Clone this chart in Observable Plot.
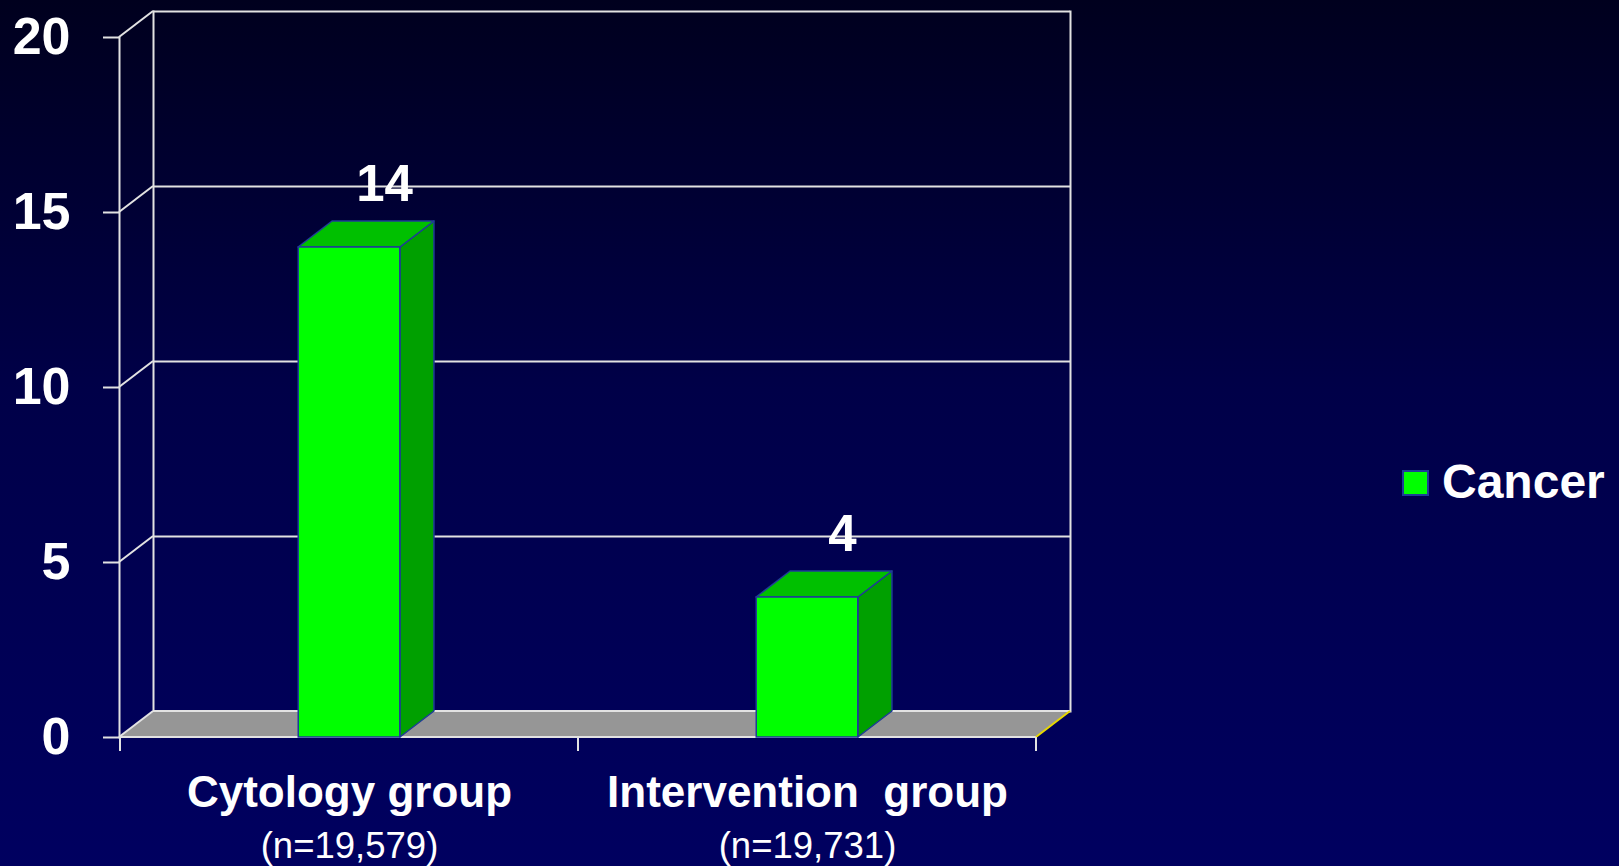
<!DOCTYPE html>
<html>
<head>
<meta charset="utf-8">
<script src="https://cdn.jsdelivr.net/npm/d3@7"></script>
<script src="https://cdn.jsdelivr.net/npm/@observablehq/plot@0.6"></script>
<style>
  html, body { margin: 0; padding: 0; overflow: hidden; }
  body {
    width: 1619px; height: 866px; position: relative;
    background: linear-gradient(to bottom, #00001e 0%, #000048 45%, #000060 100%);
    font-family: "Liberation Sans", Arial, sans-serif;
  }
  #chart { position: absolute; left: 0; top: 0; }
  #legend { position: absolute; left: 1402px; top: 458px; height: 48px; color: white; }
  #legend .sw { position: absolute; left: 0; top: 12px; width: 23px; height: 22px; background: #00ff00; border: 2px solid #1f3c96; }
  #legend .lab { position: absolute; left: 40px; top: 0; font-size: 48px; line-height: 48px; font-weight: bold; white-space: nowrap; }
</style>
</head>
<body>
<div id="chart"></div>
<div id="legend"><span class="sw"></span><span class="lab"></span></div>
<script>
// ---- data ----
const categories = ["Cytology group", "Intervention group"];
const categoryLabels = ["Cytology group", "Intervention\u00a0 group"];
const groupSizes = ["(n=19,579)", "(n=19,731)"];
const cancerCounts = [14, 4];
const yTicks = [0, 5, 10, 15, 20];
const seriesName = "Cancer";

const data = categories.map((c, i) => ({cat: c, label: categoryLabels[i], n: groupSizes[i], value: cancerCounts[i]}));

// ---- layout / style ----
const W = 1619, H = 866;
const DX = 34, DY = 26;          // 3D depth offset
const barFrac = 0.2225;           // bar width as a fraction of band
const gridColor = "#e2e2e2";
const faceFront = "#00ff00", faceTop = "#00c000", faceSide = "#00a000", edge = "#1f3c96";
const font = "Liberation Sans, Arial, sans-serif";

const ml = 119, mr = W - 1036, mt = 37, mb = H - 737;

function poly(g, pts, fill, stroke, sw) {
  g.append("polygon")
    .attr("points", pts.map(p => p.join(",")).join(" "))
    .attr("fill", fill)
    .attr("stroke", stroke || "none")
    .attr("stroke-width", sw || 0)
    .attr("stroke-linejoin", "round");
}
function line(g, x1, y1, x2, y2, color, w) {
  g.append("line").attr("x1", x1).attr("y1", y1).attr("x2", x2).attr("y2", y2)
    .attr("stroke", color).attr("stroke-width", w);
}

// floor + left wall diagonals + category ticks
function floorMark(index, scales, values, dims) {
  const g = d3.create("svg:g");
  const left = dims.marginLeft, right = dims.width - dims.marginRight;
  const y0 = scales.y(0);
  poly(g, [[left, y0], [right, y0], [right + DX, y0 - DY], [left + DX, y0 - DY]], "#969696");
  line(g, left + DX, y0 - DY, right + DX, y0 - DY, gridColor, 2);
  line(g, left, y0, right, y0, gridColor, 2);
  line(g, right, y0, right + DX, y0 - DY, "#e8d800", 2);
  for (const t of yTicks) {
    const y = scales.y(t);
    line(g, left, y, left + DX, y - DY, gridColor, 2);
  }
  const bw = scales.x.bandwidth();
  const edges = categories.map(c => scales.x(c)).concat([scales.x(categories[categories.length - 1]) + bw]);
  for (const x of edges) line(g, x, y0, x, y0 + 14, gridColor, 2);
  return g.node();
}

// side and top faces of the bars
function cubeMark(index, scales, values, dims) {
  const g = d3.create("svg:g");
  const bw = scales.x.bandwidth();
  const y0 = scales.y(0);
  for (const d of data) {
    const x0 = scales.x(d.cat) + bw * (1 - barFrac) / 2;
    const x1 = x0 + bw * barFrac;
    const yt = scales.y(d.value);
    poly(g, [[x1, y0], [x1, yt], [x1 + DX, yt - DY], [x1 + DX, y0 - DY]], faceSide, edge, 1.5);
    poly(g, [[x0, yt], [x1, yt], [x1 + DX, yt - DY], [x0 + DX, yt - DY]], faceTop, edge, 1.5);
  }
  return g.node();
}

const insetPx = ((W - mr - ml) / categories.length) * (1 - barFrac) / 2;

const chart = Plot.plot({
  width: W, height: H,
  marginLeft: ml, marginRight: mr, marginTop: mt, marginBottom: mb,
  style: {background: "transparent", color: "white", fontFamily: font, overflow: "visible"},
  x: {type: "band", domain: categories, padding: 0, axis: null},
  y: {domain: [0, 20], axis: null},
  marks: [
    // back wall
    Plot.ruleY(yTicks, {y: d => d, dx: DX, dy: -DY, stroke: gridColor, strokeWidth: 2}),
    Plot.frame({anchor: "left", dx: DX, dy: -DY, stroke: gridColor, strokeWidth: 2}),
    Plot.frame({anchor: "right", dx: DX, dy: -DY, stroke: gridColor, strokeWidth: 2}),
    floorMark,
    // front axis line
    Plot.frame({anchor: "left", stroke: gridColor, strokeWidth: 2}),
    Plot.axisY({ticks: yTicks, tickSize: 16, tickPadding: 33, fontSize: 52, fontWeight: "bold",
      stroke: gridColor, strokeWidth: 2, fill: "white", label: null, tickFormat: d => String(d)}),
    // bars
    cubeMark,
    Plot.barY(data, {x: "cat", y: "value", fill: faceFront, stroke: edge, strokeWidth: 1.5,
      insetLeft: insetPx, insetRight: insetPx}),
    // value labels
    Plot.text(data, {x: "cat", y: "value", text: d => String(d.value), dx: DX + 1, dy: -(DY + 21),
      lineAnchor: "bottom", fontSize: 51, fontWeight: "bold", fill: "white"}),
    // category labels
    Plot.text(data, {x: "cat", y: 0, text: "label", dy: 69, lineAnchor: "bottom",
      fontSize: 44, fontWeight: "bold", fill: "white"}),
    Plot.text(data, {x: "cat", y: 0, text: "n", dy: 120, lineAnchor: "bottom",
      fontSize: 36.5, fill: "white"})
  ]
});
document.getElementById("chart").appendChild(chart);
document.querySelector("#legend .lab").textContent = seriesName;
</script>
</body>
</html>
